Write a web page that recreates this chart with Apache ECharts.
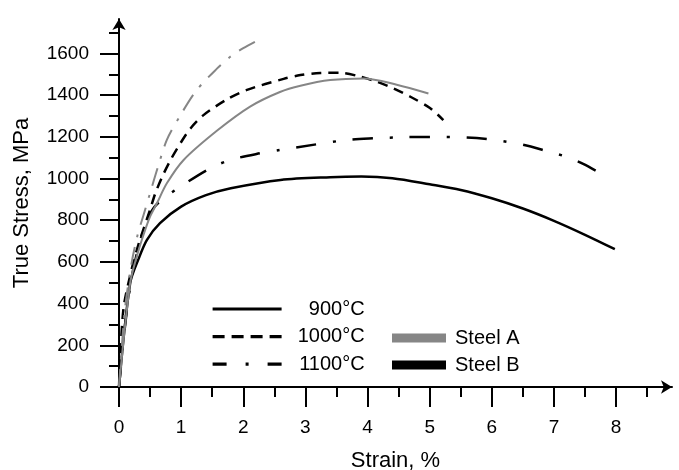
<!DOCTYPE html>
<html lang="en">
<head>
    <meta charset="UTF-8">
    <title>True stress - strain</title>
    <script src="https://cdn.jsdelivr.net/npm/echarts@6.0.0/dist/echarts.min.js"></script>
    <style>
        html, body { margin: 0; padding: 0; background: #fff; }
        #main { width: 679px; height: 470px; }
    </style>
</head>
<body>
<div id="main"></div>
<script>
    // strain (%) , true stress (MPa) pairs
    var steelA900 = [[0, 0], [0.18, 500], [0.3, 640], [0.4, 735], [0.5, 817], [0.61, 881], [0.77, 977], [1.04, 1089],
        [1.58, 1230], [2.11, 1345], [2.59, 1415], [2.92, 1445], [3.4, 1472], [3.94, 1480], [4.47, 1450], [4.98, 1408]];
    var steelA1100 = [[0, 0], [0.05, 212], [0.1, 386], [0.2, 590], [0.3, 730], [0.4, 830], [0.5, 930], [0.62, 1049],
        [0.77, 1185], [0.99, 1304], [1.25, 1424], [1.58, 1528], [1.79, 1584], [2.0, 1625], [2.24, 1664]];
    var steelB900 = [[0, 0], [0.18, 498], [0.32, 618], [0.45, 706], [0.66, 786], [1.0, 865], [1.4, 920], [1.8, 953],
        [2.6, 993], [3.4, 1006], [3.9, 1009], [4.4, 1001], [5.0, 972], [5.5, 945], [6.0, 905], [6.5, 856], [7.0, 797],
        [7.5, 730], [7.98, 661]];
    var steelB1000 = [[0, 0], [0.07, 370], [0.2, 560], [0.32, 690], [0.5, 850], [0.58, 925], [0.69, 1005], [0.83, 1089],
        [0.99, 1170], [1.15, 1240], [1.36, 1304], [1.74, 1380], [2.06, 1425], [2.65, 1478], [2.92, 1496], [3.24, 1506],
        [3.56, 1507], [3.85, 1491], [4.15, 1464], [4.42, 1432], [4.69, 1392], [5.01, 1337], [5.22, 1280]];
    var steelB1100 = [[0, 0], [0.1, 300], [0.2, 520], [0.33, 690], [0.45, 800], [0.56, 860], [0.72, 905], [1.07, 977],
        [1.47, 1049], [1.79, 1089], [2.27, 1121], [2.59, 1137], [2.81, 1147], [3.67, 1185], [4.12, 1193], [4.58, 1198],
        [5.06, 1199], [5.49, 1198], [6.0, 1187], [6.5, 1162], [6.89, 1131], [7.21, 1103], [7.47, 1070], [7.75, 1025]];

    var tempNames = ['900°C', '1000°C', '1100°C'];
    var steelNames = ['Steel A', 'Steel B'];

    var xMajorTicks = [0, 1, 2, 3, 4, 5, 6, 7, 8];
    var xMinorTicks = [0.5, 1.5, 2.5, 3.5, 4.5, 5.5, 6.5, 7.5, 8.5];
    var yMajorTicks = [0, 200, 400, 600, 800, 1000, 1200, 1400, 1600];
    var yMinorTicks = [100, 300, 500, 700, 900, 1100, 1300, 1500, 1700];

    var font = 'Liberation Sans, Arial, sans-serif';
    var grey = '#868686';

    var myChart = echarts.init(document.getElementById('main'));

    function curve(name, data, color, width, type) {
        return {
            name: name, type: 'line', data: data, symbol: 'none', smooth: 0.3,
            color: color,
            lineStyle: {color: color, width: width, type: type},
            silent: true
        };
    }
    // empty series, only there to feed the legends
    function keySeries(name, color, type) {
        return {
            name: name, type: 'line', data: [], symbol: 'none', color: color,
            lineStyle: {color: color, width: 3, type: type}
        };
    }

    var option = {
        animation: false,
        backgroundColor: '#fff',
        textStyle: {fontFamily: font, color: '#000'},
        grid: {left: 119, right: 7, top: 19, bottom: 83, outerBoundsMode: 'none'},
        legend: [{
            data: tempNames,
            orient: 'vertical', left: 211, top: 299, padding: 0,
            itemWidth: 69, itemHeight: 14, itemGap: 7.6,
            selectedMode: false,
            lineStyle: {width: 3.2},
            // hide the dot that line series put in the middle of their key
            itemStyle: {color: 'rgba(0,0,0,0)', borderWidth: 0, opacity: 0},
            formatter: '{t|{name}}',
            textStyle: {
                fontFamily: font, fontSize: 20, color: '#000',
                rich: {t: {width: 78, align: 'right', fontSize: 20, fontFamily: font, color: '#000'}}
            }
        }, {
            data: steelNames,
            orient: 'vertical', left: 392, top: 328, padding: 0,
            icon: 'rect', itemWidth: 54, itemHeight: 9, itemGap: 7,
            selectedMode: false,
            formatter: '{s|{name}}',
            textStyle: {
                fontFamily: font, fontSize: 20, color: '#000',
                rich: {s: {padding: [0, 0, 0, 4], fontSize: 20, fontFamily: font, color: '#000'}}
            }
        }],
        xAxis: [{
            type: 'value', min: 0, max: 8.9, position: 'bottom',
            name: 'Strain, %', nameLocation: 'middle', nameGap: 63,
            nameTextStyle: {fontSize: 22, color: '#000', fontFamily: font},
            axisLine: {onZero: false, symbol: ['none', 'arrow'], symbolSize: [10, 11], lineStyle: {color: '#000', width: 2}},
            axisTick: {length: 20, customValues: xMajorTicks, lineStyle: {color: '#000', width: 2}},
            axisLabel: {customValues: xMajorTicks, margin: 31, fontSize: 19, color: '#000', fontFamily: font},
            splitLine: {show: false}
        }, {
            type: 'value', min: 0, max: 8.9, position: 'bottom',
            axisLine: {show: false},
            axisTick: {length: 10, customValues: xMinorTicks, lineStyle: {color: '#000', width: 2}},
            axisLabel: {show: false},
            splitLine: {show: false}
        }],
        yAxis: [{
            type: 'value', min: 0, max: 1765, position: 'left',
            name: 'True Stress, MPa', nameLocation: 'middle', nameGap: 86,
            nameTextStyle: {fontSize: 22, color: '#000', fontFamily: font},
            axisLine: {onZero: false, symbol: ['none', 'arrow'], symbolSize: [10, 11], lineStyle: {color: '#000', width: 2}},
            axisTick: {length: 19, customValues: yMajorTicks, lineStyle: {color: '#000', width: 2}},
            axisLabel: {
                customValues: yMajorTicks, margin: 30, fontSize: 19, color: '#000', fontFamily: font,
                formatter: function (v) { return String(v); }
            },
            splitLine: {show: false}
        }, {
            type: 'value', min: 0, max: 1765, position: 'left',
            axisLine: {show: false},
            axisTick: {length: 10, customValues: yMinorTicks, lineStyle: {color: '#000', width: 2}},
            axisLabel: {show: false},
            splitLine: {show: false}
        }],
        series: [
            curve('Steel B 900°C', steelB900, '#000', 2.5, 'solid'),
            curve('Steel B 1000°C', steelB1000, '#000', 2.5, [10, 7]),
            curve('Steel B 1100°C', steelB1100, '#000', 2.5, [20, 17, 3, 17]),
            curve('Steel A 900°C', steelA900, grey, 2, 'solid'),
            curve('Steel A 1100°C', steelA1100, grey, 2, [18, 10, 3, 10]),
            keySeries('900°C', '#000', 'solid'),
            keySeries('1000°C', '#000', [12, 7]),
            keySeries('1100°C', '#000', [14, 19, 3, 19]),
            keySeries('Steel A', grey, 'solid'),
            keySeries('Steel B', '#000', 'solid')
        ]
    };
    myChart.setOption(option);
</script>
</body>
</html>
